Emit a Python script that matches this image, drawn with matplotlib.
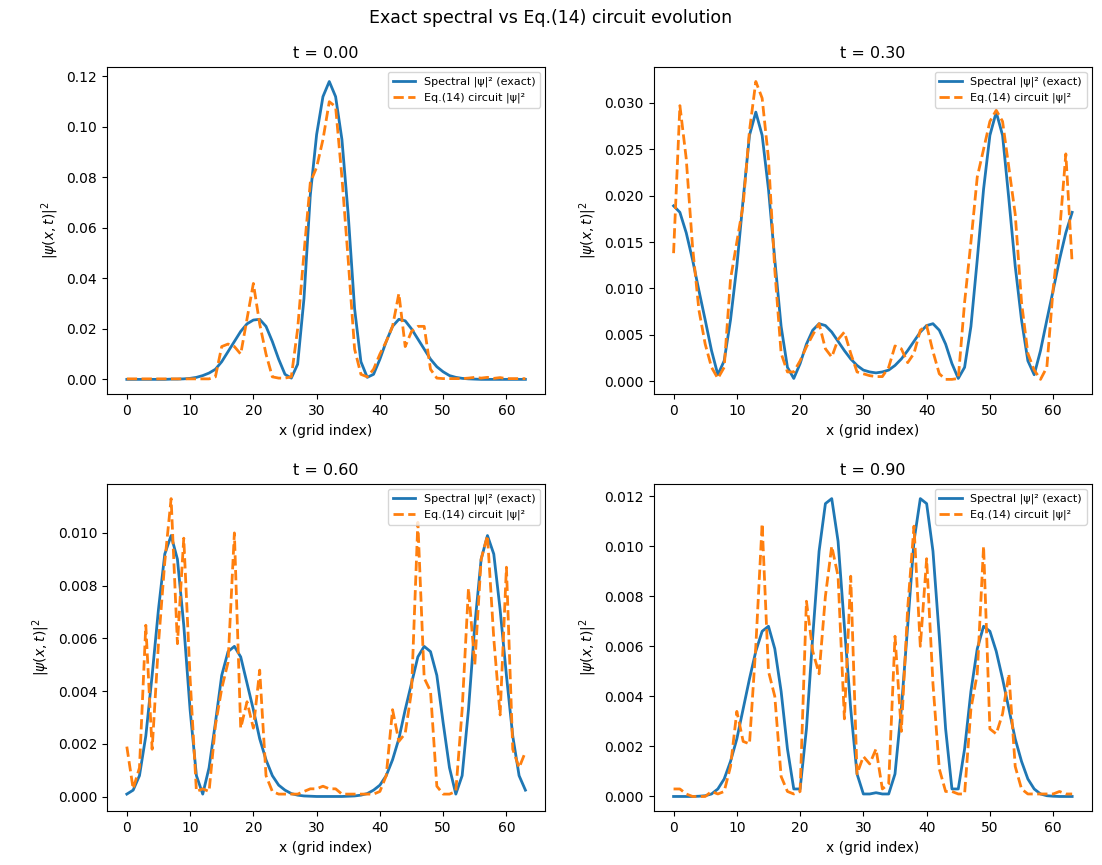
import numpy as np
import matplotlib
matplotlib.use("Agg")
import matplotlib.pyplot as plt

# grid index (64 points)
x = np.arange(64)

times = [0.00, 0.30, 0.60, 0.90]

# t = 0.00
spectral_t0 = [0.0, 0.0, 0.0, 0.0, 0.0, 0.0, 0.0, 0.0001, 0.0001, 0.0002, 0.0004,
               0.0008, 0.0015, 0.0025, 0.004, 0.007, 0.011, 0.015, 0.019, 0.022, 0.0235,
               0.0238, 0.021, 0.015, 0.008, 0.002, 0.0005, 0.006, 0.032, 0.073, 0.097,
               0.112, 0.118, 0.112, 0.095, 0.065, 0.028, 0.007, 0.0008, 0.002, 0.008,
               0.015, 0.021, 0.0238, 0.0232, 0.020, 0.016, 0.012, 0.008, 0.005, 0.003,
               0.0015, 0.0008, 0.0004, 0.0002, 0.0001, 0.0, 0.0, 0.0, 0.0, 0.0,
               0.0, 0.0, 0.0]
circuit_t0 = [0.0002, 0.0002, 0.0002, 0.0002, 0.0002, 0.0002, 0.0002, 0.0002, 0.0002, 0.0002, 0.0002,
              0.0002, 0.0002, 0.0002, 0.001, 0.013, 0.014, 0.013, 0.010, 0.024, 0.038,
              0.022, 0.010, 0.001, 0.0005, 0.0005, 0.001, 0.020, 0.050, 0.078, 0.084,
              0.095, 0.110, 0.108, 0.080, 0.047, 0.012, 0.002, 0.001, 0.004, 0.010,
              0.015, 0.021, 0.034, 0.013, 0.019, 0.021, 0.021, 0.004, 0.0005, 0.0003,
              0.0003, 0.0003, 0.0003, 0.0005, 0.0008, 0.0005, 0.0008, 0.0004, 0.0007, 0.0003,
              0.0003, 0.0003, 0.0003]

# t = 0.30
spectral_t1 = [0.0189, 0.0182, 0.0160, 0.0131, 0.0098, 0.0066, 0.0033, 0.0007, 0.0022, 0.0066, 0.0124,
               0.0196, 0.0265, 0.0290, 0.0265, 0.0207, 0.0131, 0.0059, 0.0015, 0.0003, 0.0019,
               0.0040, 0.0055, 0.0062, 0.0060, 0.0053, 0.0043, 0.0033, 0.0024, 0.0017, 0.0012,
               0.0010, 0.0009, 0.0010, 0.0012, 0.0017, 0.0024, 0.0033, 0.0043, 0.0053, 0.0060,
               0.0062, 0.0055, 0.0040, 0.0019, 0.0003, 0.0015, 0.0059, 0.0131, 0.0207, 0.0265,
               0.0290, 0.0265, 0.0196, 0.0124, 0.0066, 0.0022, 0.0007, 0.0033, 0.0066, 0.0098,
               0.0131, 0.0160, 0.0182]
circuit_t1 = [0.0138, 0.0297, 0.0240, 0.0145, 0.0077, 0.0040, 0.0015, 0.0003, 0.0015, 0.0110, 0.0150,
              0.0190, 0.0270, 0.0323, 0.0305, 0.0240, 0.0120, 0.0030, 0.0010, 0.0010, 0.0022,
              0.0037, 0.0050, 0.0062, 0.0035, 0.0026, 0.0045, 0.0053, 0.0030, 0.0010, 0.0008,
              0.0006, 0.0005, 0.0005, 0.0015, 0.0038, 0.0035, 0.0020, 0.0030, 0.0055, 0.0060,
              0.0032, 0.0008, 0.0002, 0.0002, 0.0003, 0.0085, 0.0150, 0.0220, 0.0250, 0.0280,
              0.0292, 0.0280, 0.0230, 0.0180, 0.0085, 0.0030, 0.0012, 0.0002, 0.0015, 0.0100,
              0.0160, 0.0245, 0.0127]

# t = 0.60
spectral_t2 = [0.0001, 0.00025, 0.0008, 0.0023, 0.0046, 0.0071, 0.0092, 0.0099, 0.0090, 0.0065, 0.0033,
               0.0008, 0.0001, 0.0011, 0.0028, 0.0046, 0.0055, 0.0057, 0.0053, 0.0043, 0.0033,
               0.0022, 0.0014, 0.0008, 0.00044, 0.00025, 0.00012, 0.00006, 0.00003, 0.00002, 0.00001,
               0.00001, 0.00001, 0.00001, 0.00001, 0.00002, 0.00003, 0.00006, 0.00012, 0.00025, 0.00044,
               0.0008, 0.0014, 0.0022, 0.0033, 0.0043, 0.0053, 0.0057, 0.0055, 0.0046, 0.0028,
               0.0011, 0.0001, 0.0008, 0.0033, 0.0065, 0.0090, 0.0099, 0.0092, 0.0071, 0.0046,
               0.0023, 0.0008, 0.00025]
circuit_t2 = [0.0019, 0.0003, 0.0011, 0.0065, 0.0018, 0.0058, 0.0089, 0.0113, 0.0058, 0.0098, 0.0045,
              0.0002, 0.0003, 0.0002, 0.0027, 0.0041, 0.0051, 0.0100, 0.0026, 0.0036, 0.0026,
              0.0048, 0.0008, 0.0002, 0.0001, 0.0001, 0.0001, 0.0001, 0.0002, 0.0003, 0.0003,
              0.0004, 0.0003, 0.0003, 0.0001, 0.0001, 0.0001, 0.0001, 0.0001, 0.0001, 0.0002,
              0.0008, 0.0033, 0.0021, 0.0024, 0.0040, 0.0104, 0.0045, 0.0040, 0.0004, 0.0001,
              0.0001, 0.0002, 0.0033, 0.0079, 0.0050, 0.0090, 0.0099, 0.0060, 0.0031, 0.0087,
              0.0018, 0.0011, 0.0017]

# t = 0.90
spectral_t3 = [0.0, 0.0, 0.0, 0.0, 0.00001, 0.00003, 0.0001, 0.0003, 0.0007, 0.0014, 0.0023,
               0.0035, 0.0047, 0.0058, 0.0066, 0.0068, 0.0059, 0.0042, 0.0019, 0.0003, 0.0003,
               0.0027, 0.0064, 0.0098, 0.0117, 0.0119, 0.0102, 0.0068, 0.0035, 0.0009, 0.0001,
               0.0001, 0.00015, 0.0001, 0.0001, 0.0009, 0.0035, 0.0068, 0.0102, 0.0119, 0.0117,
               0.0098, 0.0064, 0.0027, 0.0003, 0.0003, 0.0019, 0.0042, 0.0059, 0.0068, 0.0066,
               0.0058, 0.0047, 0.0035, 0.0023, 0.0014, 0.0007, 0.0003, 0.0001, 0.00003, 0.00001,
               0.0, 0.0, 0.0]
circuit_t3 = [0.0003, 0.0003, 0.0001, 0.0, 0.0, 0.0, 0.0002, 0.0001, 0.0002, 0.0012, 0.0034,
              0.0022, 0.0021, 0.0060, 0.0109, 0.0050, 0.0040, 0.0008, 0.0002, 0.0001, 0.0002,
              0.0078, 0.0058, 0.0049, 0.0080, 0.0100, 0.0088, 0.0031, 0.0088, 0.0009, 0.0016,
              0.0013, 0.0019, 0.0003, 0.0005, 0.0064, 0.0026, 0.0075, 0.0108, 0.0060, 0.0095,
              0.0045, 0.0011, 0.0002, 0.0002, 0.0001, 0.0001, 0.0035, 0.0049, 0.0100, 0.0027,
              0.0025, 0.0033, 0.0049, 0.0012, 0.0003, 0.0001, 0.0001, 0.0001, 0.0001, 0.0001,
              0.0002, 0.0001, 0.0001]

spectral_all = [spectral_t0, spectral_t1, spectral_t2, spectral_t3]
circuit_all = [circuit_t0, circuit_t1, circuit_t2, circuit_t3]

fig, axes = plt.subplots(2, 2, figsize=(11.02, 8.65), dpi=100)
fig.subplots_adjust(left=0.097, right=0.991, top=0.923, bottom=0.062, wspace=0.247, hspace=0.273)

for ax, t, spec, circ in zip(axes.flat, times, spectral_all, circuit_all):
    ax.plot(x, spec, color='#1f77b4', lw=2, label='Spectral |ψ|² (exact)')
    ax.plot(x, circ, color='#ff7f0e', lw=2, ls='--', label='Eq.(14) circuit |ψ|²')
    ax.set_title(f't = {t:.2f}', fontsize=11.5)
    ax.set_xlabel('x (grid index)', fontsize=10)
    ax.set_ylabel(r'$|\psi(x,t)|^2$', fontsize=10)
    ax.tick_params(labelsize=10)
    ax.legend(loc='upper right', fontsize=8)

fig.suptitle('Exact spectral vs Eq.(14) circuit evolution', fontsize=12.5, y=0.99)

plt.savefig('out.png', dpi=100)
